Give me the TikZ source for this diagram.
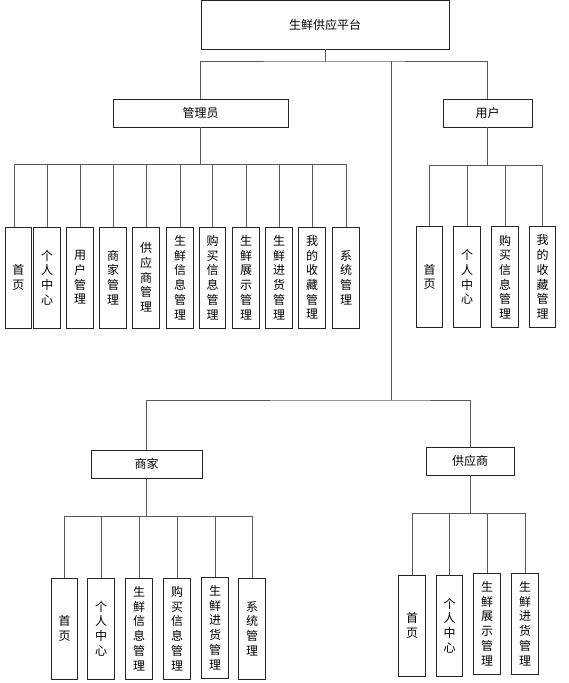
\documentclass[tikz,border=0pt]{standalone}
\usepackage{fontspec}
\newfontfamily\cjk{Noto Sans CJK SC}
\begin{document}
\begin{tikzpicture}[x=1pt,y=-1pt,
  box/.style={draw=black!85, line width=0.8pt, inner sep=0pt, align=center,
    font=\cjk\fontsize{12}{14.7}\selectfont},
  hbox/.style={box, minimum height=28pt},
  vbox/.style={box, minimum width=26.5pt, minimum height=101pt},
  conn/.style={draw=black!65, line width=0.8pt}]
\useasboundingbox (0,0) rectangle (568,683);
% level 0
\node[box, minimum width=248pt, minimum height=49pt] (root) at (325,24.5) {生鲜供应平台};
% level 1
\node[hbox, minimum width=175pt] (admin) at (200.5,113) {管理员};
\node[hbox, minimum width=89pt] (usr) at (487.5,113) {用户};
\node[hbox, minimum width=111pt] (merch) at (146.5,464) {商家};
\node[hbox, minimum width=88pt] (sup) at (470,461) {供应商};
% admin children
\node[vbox] (a1) at (18.5,277.5) {首\\页};
\node[vbox] (a2) at (47,277.5) {个\\人\\中\\心};
\node[vbox] (a3) at (80,277.5) {用\\户\\管\\理};
\node[vbox] (a4) at (113,277.5) {商\\家\\管\\理};
\node[vbox] (a5) at (146,277.5) {供\\应\\商\\管\\理};
\node[vbox] (a6) at (180,277.5) {生\\鲜\\信\\息\\管\\理};
\node[vbox] (a7) at (212.5,277.5) {购\\买\\信\\息\\管\\理};
\node[vbox] (a8) at (246,277.5) {生\\鲜\\展\\示\\管\\理};
\node[vbox] (a9) at (279,277.5) {生\\鲜\\进\\货\\管\\理};
\node[vbox] (a10) at (312,277.5) {我\\的\\收\\藏\\管\\理};
\node[vbox] (a11) at (346,277.5) {系\\统\\管\\理};
% user children
\node[vbox] (u1) at (429.5,277) {首\\页};
\node[vbox] (u2) at (467,277) {个\\人\\中\\心};
\node[vbox] (u3) at (505,277) {购\\买\\信\\息\\管\\理};
\node[vbox] (u4) at (542.5,277) {我\\的\\收\\藏\\管\\理};
% merchant children
\node[vbox] (m1) at (64.5,628.5) {首\\页};
\node[vbox] (m2) at (101,628.5) {个\\人\\中\\心};
\node[vbox] (m3) at (139,628.5) {生\\鲜\\信\\息\\管\\理};
\node[vbox] (m4) at (177,628.5) {购\\买\\信\\息\\管\\理};
\node[vbox] (m5) at (215,627.5) {生\\鲜\\进\\货\\管\\理};
\node[vbox] (m6) at (252,628.5) {系\\统\\管\\理};
% supplier children
\node[vbox] (s1) at (412,625.5) {首\\页};
\node[vbox] (s2) at (449.5,625.5) {个\\人\\中\\心};
\node[vbox] (s3) at (487,623.5) {生\\鲜\\展\\示\\管\\理};
\node[vbox] (s4) at (525,623.5) {生\\鲜\\进\\货\\管\\理};
% bus coordinates
\coordinate (b0) at (325,61);
\coordinate (t1) at (391,61);
\coordinate (t2) at (391,400);
\coordinate (ab) at (200.5,164.5);
\coordinate (ub) at (487.5,165);
\coordinate (mb) at (146.5,516);
\coordinate (sb) at (470,513);
% connectors
\draw[conn] (root.south) -- (b0);
\draw[conn] (admin.north) |- (b0) -| (usr.north);
\draw[conn] (t1) -- (t2);
\draw[conn] (merch.north) |- (t2) -| (sup.north);
\draw[conn] (admin.south) -- (ab);
\draw[conn] (ab) -| ([xshift=-4.5pt]a1.north);
\foreach \n in {a2,a3,a4,a5,a6,a7,a8,a9,a10,a11} \draw[conn] (ab) -| (\n.north);
\draw[conn] (usr.south) -- (ub);
\foreach \n in {u1,u2,u3,u4} \draw[conn] (ub) -| (\n.north);
\draw[conn] (merch.south) -- (mb);
\foreach \n in {m1,m2,m3,m4,m5,m6} \draw[conn] (mb) -| (\n.north);
\draw[conn] (sup.south) -- (sb);
\foreach \n in {s1,s2,s3,s4} \draw[conn] (sb) -| (\n.north);
\end{tikzpicture}
\end{document}
